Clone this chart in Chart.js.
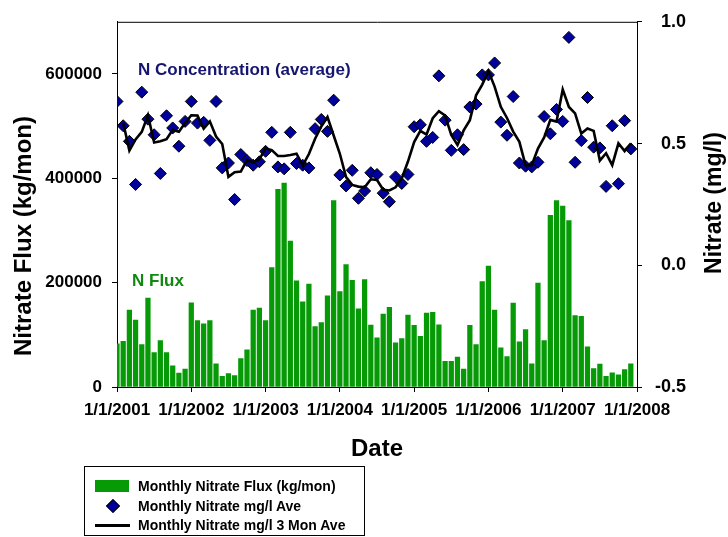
<!DOCTYPE html>
<html>
<head>
<meta charset="utf-8">
<script src="https://cdn.jsdelivr.net/npm/chart.js@4.4.0/dist/chart.umd.min.js"></script>
<style>
  body { margin: 0; background: #fff; }
  #wrap { position: relative; width: 728px; height: 537px; font-family: "Liberation Sans", Arial, sans-serif; }
  #legendBox { position: absolute; left: 84px; top: 466px; width: 281px; height: 70px;
               border: 1px solid #000; box-sizing: border-box; }
  .lgRow { position: absolute; left: 0; width: 100%; height: 20px; }
  .lgText { position: absolute; left: 53px; top: 0; line-height: 20px; font-size: 14px; font-weight: bold; color: #000; white-space: nowrap; }
  .lgSwatch { position: absolute; }
</style>
</head>
<body>
<div id="wrap">
  <canvas id="chart" width="728" height="537"></canvas>
  <div id="legendBox"></div>
</div>
<script>
// tick labels for the date axis (one per year, month index 0,12,...,84)
const yearLabels = ['1/1/2001', '1/1/2002', '1/1/2003', '1/1/2004', '1/1/2005', '1/1/2006', '1/1/2007', '1/1/2008'];
const fluxTicks = [0, 200000, 400000, 600000];
const nitrateTicks = [-0.5, 0.0, 0.5, 1.0];

// Monthly nitrate flux (kg/mon), Jan..Dec
const flux2001 = [82700, 87700, 147600, 128500, 81400, 170400, 66200, 89000, 66200, 40800, 26700, 34300];
const flux2002 = [161500, 127200, 120900, 127200, 44600, 20400, 25500, 21700, 54700, 71300, 147600, 151400];
const flux2003 = [127200, 228800, 379000, 391000, 279700, 203400, 163400, 197100, 115700, 123400, 174800, 357300];
const flux2004 = [183000, 234500, 204700, 150000, 205900, 118900, 94200, 139900, 152500, 84600, 92900, 138000];
const flux2005 = [118200, 97300, 141800, 143000, 119000, 49000, 49000, 57200, 34300, 118200, 81400, 202100];
const flux2006 = [232000, 147600, 75100, 58500, 160900, 86600, 110000, 44600, 199000, 89000, 329000, 357300];
const flux2007 = [347000, 319200, 136700, 135400, 77000, 35100, 44000, 20400, 27000, 23300, 33200, 44600];

// Monthly nitrate mg/l average
const no3_2001 = [0.673, 0.573, 0.509, 0.332, 0.711, 0.600, 0.536, 0.377, 0.614, 0.564, 0.489, 0.591];
const no3_2002 = [0.673, 0.584, 0.587, 0.513, 0.673, 0.400, 0.420, 0.270, 0.455, 0.430, 0.411, 0.425];
const no3_2003 = [0.468, 0.546, 0.404, 0.396, 0.546, 0.418, 0.411, 0.400, 0.561, 0.599, 0.550, 0.678];
const no3_2004 = [0.371, 0.326, 0.390, 0.275, 0.305, 0.380, 0.373, 0.296, 0.261, 0.363, 0.336, 0.373];
const no3_2005 = [0.569, 0.577, 0.509, 0.525, 0.778, 0.596, 0.472, 0.536, 0.475, 0.650, 0.662, 0.782];
const no3_2006 = [0.782, 0.831, 0.588, 0.534, 0.693, 0.420, 0.407, 0.404, 0.423, 0.611, 0.540, 0.640];
const no3_2007 = [0.591, 0.936, 0.423, 0.512, 0.689, 0.485, 0.482, 0.324, 0.573, 0.335, 0.594, 0.478];

// 3 month average line
const avg3_2001 = [null, 0.585, 0.471, 0.517, 0.548, 0.616, 0.504, 0.509, 0.518, 0.556, 0.548, 0.584];
const avg3_2002 = [0.616, 0.615, 0.561, 0.591, 0.529, 0.498, 0.363, 0.382, 0.385, 0.432, 0.422, 0.435];
const avg3_2003 = [0.480, 0.473, 0.449, 0.449, 0.453, 0.458, 0.410, 0.457, 0.520, 0.570, 0.609, 0.533];
const avg3_2004 = [0.458, 0.362, 0.330, 0.323, 0.320, 0.353, 0.350, 0.310, 0.307, 0.320, 0.357, 0.426];
const avg3_2005 = [0.506, 0.552, 0.537, 0.604, 0.633, 0.615, 0.535, 0.494, 0.554, 0.596, 0.698, 0.742];
const avg3_2006 = [0.798, 0.734, 0.651, 0.605, 0.549, 0.507, 0.410, 0.411, 0.479, 0.525, 0.597, 0.590];
const avg3_2007 = [0.722, 0.650, 0.624, 0.541, 0.562, 0.552, 0.430, 0.460, 0.411, 0.501, 0.469, 0.500];

const fluxAll = [].concat(flux2001, flux2002, flux2003, flux2004, flux2005, flux2006, flux2007);
const no3All = [].concat(no3_2001, no3_2002, no3_2003, no3_2004, no3_2005, no3_2006, no3_2007);
const avg3All = [].concat(avg3_2001, avg3_2002, avg3_2003, avg3_2004, avg3_2005, avg3_2006, avg3_2007);

// x = month index since Jan 2001
function toPoints(arr) {
    let pts = [];
    for (let i = 0; i < arr.length; i++) {
        if (arr[i] != null) pts.push({x: i, y: arr[i]});
    }
    return pts;
}

const GREEN = '#079a07';
const NAVY = '#00009c';
const FONT = '"Liberation Sans", Arial, sans-serif';
Chart.defaults.font.family = FONT;
Chart.defaults.color = '#000';

// frame top line, axis titles and the two notes inside the plot
const extraText = {
    id: 'extraText',
    afterDraw(chart) {
        const ctx = chart.ctx;
        const a = chart.chartArea;
        ctx.save();
        ctx.strokeStyle = '#000';
        ctx.lineWidth = 1;
        ctx.beginPath();
        ctx.moveTo(a.left, a.top + 0.5);
        ctx.lineTo(a.right + 1, a.top + 0.5);
        ctx.stroke();

        ctx.font = 'bold 17px ' + FONT;
        ctx.textAlign = 'left';
        ctx.textBaseline = 'alphabetic';
        ctx.fillStyle = '#161670';
        ctx.fillText('N Concentration (average)', a.left + 21, a.top + 53);
        ctx.fillStyle = '#118811';
        ctx.fillText('N Flux', a.left + 15, a.top + 264);

        ctx.fillStyle = '#000';
        ctx.textAlign = 'center';
        ctx.textBaseline = 'middle';
        ctx.font = 'bold 24px ' + FONT;
        ctx.fillText('Date', (a.left + a.right) / 2, 449);

        ctx.save();
        ctx.font = 'bold 24px ' + FONT;
        ctx.translate(24, 236);
        ctx.rotate(-Math.PI / 2);
        ctx.fillText('Nitrate Flux (kg/mon)', 0, 0);
        ctx.restore();

        ctx.save();
        ctx.font = 'bold 23px ' + FONT;
        ctx.translate(715, 203);
        ctx.rotate(-Math.PI / 2);
        ctx.fillText('Nitrate (mg/l)', 0, 0);
        ctx.restore();

        ctx.restore();
    }
};

const chart = new Chart(document.getElementById('chart'), {
    type: 'bar',
    data: {
        datasets: [
            {
                type: 'line',
                label: 'Monthly Nitrate mg/l 3 Mon Ave',
                data: toPoints(avg3All),
                yAxisID: 'y1',
                borderColor: '#000',
                borderWidth: 2.6,
                pointRadius: 0,
                tension: 0,
                order: 0
            },
            {
                type: 'scatter',
                label: 'Monthly Nitrate mg/l Ave',
                data: toPoints(no3All),
                yAxisID: 'y1',
                pointStyle: 'rectRot',
                pointRadius: 6,
                backgroundColor: NAVY,
                borderColor: '#000',
                borderWidth: 1,
                order: 1
            },
            {
                type: 'bar',
                label: 'Monthly Nitrate Flux (kg/mon)',
                data: toPoints(fluxAll),
                yAxisID: 'y',
                backgroundColor: GREEN,
                barThickness: 4.6,
                order: 2
            }
        ]
    },
    options: {
        responsive: false,
        animation: false,
        layout: { padding: { top: 20, left: 0, right: 42, bottom: 0 } },
        plugins: { legend: { display: false }, tooltip: { enabled: false } },
        scales: {
            x: {
                type: 'linear',
                min: 0,
                max: 84,
                offset: false,
                afterFit: (s) => { s.height = 150; },
                grid: { offset: false, drawOnChartArea: false, drawTicks: true, tickLength: 5, color: '#000' },
                border: { display: true, color: '#000', width: 1 },
                ticks: {
                    stepSize: 12,
                    autoSkip: false,
                    maxRotation: 0,
                    padding: 8,
                    font: { size: 17, weight: 'bold' },
                    callback: (v) => yearLabels[v / 12]
                }
            },
            y: {
                position: 'left',
                min: 0,
                max: 700000,
                afterFit: (s) => { s.width = 117; },
                afterBuildTicks: (s) => { s.ticks = fluxTicks.map(v => ({value: v})); },
                grid: { drawOnChartArea: false, drawTicks: true, tickLength: 5, color: '#000' },
                border: { display: true, color: '#000', width: 1 },
                ticks: {
                    padding: 10,
                    font: { size: 17, weight: 'bold' },
                    callback: (v) => String(v)
                }
            },
            y1: {
                position: 'right',
                min: -0.5,
                max: 1.0,
                // right edge of this axis = right edge of the tick labels
                afterFit: (s) => { s.width = 49; },
                afterBuildTicks: (s) => { s.ticks = nitrateTicks.map(v => ({value: v})); },
                grid: { drawOnChartArea: false, drawTicks: true, tickLength: 5, color: '#000' },
                border: { display: true, color: '#000', width: 1 },
                ticks: {
                    crossAlign: 'far',
                    padding: 11,
                    font: { size: 18, weight: 'bold' },
                    callback: (v) => v.toFixed(1)
                }
            }
        }
    },
    plugins: [extraText]
});

// legend box under the chart, built from the datasets (bar, diamond, line)
const box = document.getElementById('legendBox');
const legendOrder = [2, 1, 0];
legendOrder.forEach((dsIndex, row) => {
    const ds = chart.data.datasets[dsIndex];
    const r = document.createElement('div');
    r.className = 'lgRow';
    r.style.top = (9 + row * 19.5) + 'px';
    const sw = document.createElement('div');
    sw.className = 'lgSwatch';
    if (ds.type === 'bar') {
        sw.style.cssText = 'left:10px;top:4px;width:34px;height:12px;background:' + ds.backgroundColor;
    } else if (ds.type === 'scatter') {
        sw.style.cssText = 'left:23px;top:5px;width:8px;height:8px;background:' + ds.backgroundColor +
            ';border:1px solid #000;transform:rotate(45deg)';
    } else {
        sw.style.cssText = 'left:10px;top:9px;width:35px;height:3px;background:' + ds.borderColor;
    }
    const t = document.createElement('div');
    t.className = 'lgText';
    t.textContent = ds.label;
    r.appendChild(sw);
    r.appendChild(t);
    box.appendChild(r);
});
</script>
</body>
</html>
